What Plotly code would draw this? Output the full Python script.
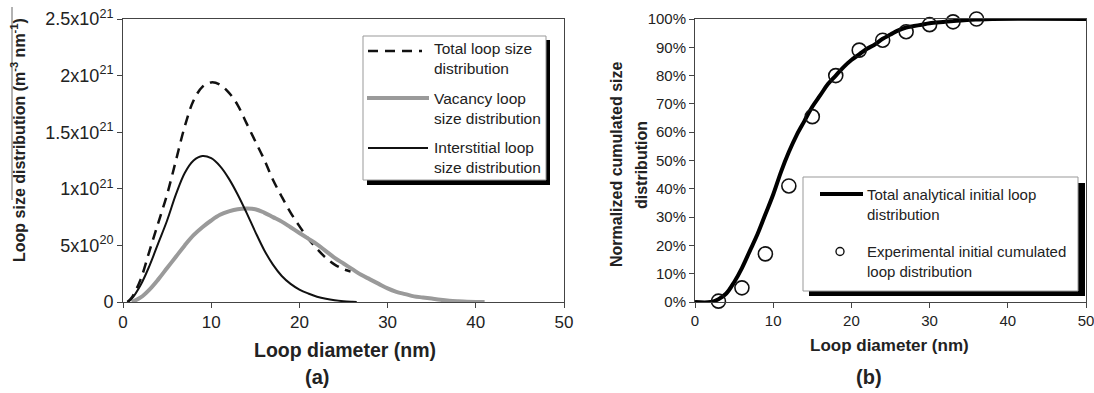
import plotly.graph_objects as go

W, H = 1094, 393
FONT = "Liberation Sans, Arial, sans-serif"

# ---------------- Data (a) ----------------
d_total = [0.5, 1, 2, 3, 4, 5, 6, 7, 8, 9, 10, 11, 12, 13, 14, 15, 16, 17, 18, 19, 20, 21, 22, 23, 24, 25, 25.8]
v_total = [0, 0.04, 0.2, 0.45, 0.7, 0.95, 1.25, 1.55, 1.78, 1.9, 1.94, 1.92, 1.85, 1.74, 1.58, 1.42, 1.26,
           1.08, 0.93, 0.79, 0.67, 0.56, 0.47, 0.39, 0.33, 0.29, 0.27]

d_vac = [1, 2, 3, 4, 5, 6, 7, 8, 9, 10, 11, 12, 13, 14, 15, 16, 17, 18, 19, 20, 21, 22, 23, 24, 25, 26, 27,
         28, 29, 30, 31, 32, 33, 34, 35, 36, 37, 38, 39, 40, 41]
v_vac = [0, 0.04, 0.11, 0.2, 0.3, 0.4, 0.5, 0.59, 0.66, 0.72, 0.77, 0.80, 0.82, 0.825, 0.82, 0.79, 0.75,
         0.71, 0.66, 0.61, 0.56, 0.51, 0.45, 0.39, 0.34, 0.29, 0.24, 0.2, 0.16, 0.12, 0.09, 0.07, 0.05,
         0.04, 0.03, 0.02, 0.012, 0.007, 0.003, 0.001, 0]

d_int = [0.5, 1, 2, 3, 4, 5, 6, 7, 8, 9, 10, 11, 12, 13, 14, 15, 16, 17, 18, 19, 20, 21, 22, 23, 24, 25, 26, 26.5]
v_int = [0, 0.03, 0.15, 0.32, 0.52, 0.72, 0.95, 1.14, 1.25, 1.29, 1.27, 1.20, 1.09, 0.95, 0.79, 0.62, 0.46,
         0.33, 0.23, 0.16, 0.11, 0.075, 0.047, 0.028, 0.015, 0.007, 0.002, 0]

SCALE = 1e21
y_tickvals_a = [0, 0.5, 1.0, 1.5, 2.0, 2.5]
y_ticktext_a = ["0", "5x10<sup>20</sup>", "1x10<sup>21</sup>", "1.5x10<sup>21</sup>",
                "2x10<sup>21</sup>", "2.5x10<sup>21</sup>"]

# ---------------- Data (b) ----------------
d_cum = [0, 2, 3, 4, 5, 6, 7, 8, 9, 10, 11, 12, 13, 14, 15, 16, 17, 18, 19, 20, 21, 22, 23, 24, 25, 26,
         27, 28, 29, 30, 32, 34, 36, 38, 50]
v_cum = [0, 0, 0.01, 0.03, 0.07, 0.12, 0.18, 0.24, 0.31, 0.38, 0.46, 0.53, 0.59, 0.64, 0.69, 0.73, 0.77,
         0.80, 0.83, 0.855, 0.875, 0.895, 0.91, 0.93, 0.945, 0.96, 0.97, 0.975, 0.98, 0.985, 0.99, 0.995,
         0.998, 1.0, 1.0]

d_exp = [3, 6, 9, 12, 15, 18, 21, 24, 27, 30, 33, 36]
v_exp = [0.003, 0.05, 0.17, 0.41, 0.655, 0.80, 0.89, 0.925, 0.955, 0.98, 0.99, 1.0]

x_ticks = [0, 10, 20, 30, 40, 50]
y_ticks_b = [i / 10 for i in range(11)]
y_ticktext_b = [f"{i*10}%" for i in range(11)]


def px(x):
    return x / W


def py(y):
    return 1 - y / H


fig = go.Figure()

fig.add_trace(go.Scatter(x=d_total, y=[v * SCALE for v in v_total], mode="lines",
                         line=dict(color="#111", width=2.5, dash="10px,7px", shape="spline"),
                         xaxis="x", yaxis="y", showlegend=False))
fig.add_trace(go.Scatter(x=d_vac, y=[v * SCALE for v in v_vac], mode="lines",
                         line=dict(color="#9a9a9a", width=4, shape="spline"),
                         xaxis="x", yaxis="y", showlegend=False))
fig.add_trace(go.Scatter(x=d_int, y=[v * SCALE for v in v_int], mode="lines",
                         line=dict(color="#111", width=2, shape="spline"),
                         xaxis="x", yaxis="y", showlegend=False))

fig.add_trace(go.Scatter(x=d_cum, y=v_cum, mode="lines",
                         line=dict(color="#000", width=4, shape="spline"),
                         xaxis="x2", yaxis="y2", showlegend=False))
fig.add_trace(go.Scatter(x=d_exp, y=v_exp, mode="markers", cliponaxis=False,
                         marker=dict(symbol="circle-open", size=14, color="#111",
                                     line=dict(width=1.6, color="#111")),
                         xaxis="x2", yaxis="y2", showlegend=False))

axis_common = dict(showgrid=False, zeroline=False, showline=True, linecolor="#444", linewidth=1,
                   mirror=True, ticks="outside", ticklen=5, tickcolor="#444", tickwidth=1,
                   automargin=False, ticklabeloverflow="allow")

y_dom = [py(302), py(19)]

fig.update_layout(
    width=W, height=H, autosize=False,
    margin=dict(l=0, r=0, t=0, b=0),
    paper_bgcolor="white", plot_bgcolor="white",
    font=dict(family=FONT, color="#222"),
    xaxis=dict(domain=[px(123), px(564)], range=[0, 50], tickvals=x_ticks, anchor="y",
               tickfont=dict(size=17, family=FONT, color="#222"), **axis_common),
    yaxis=dict(domain=y_dom, range=[0, 2.5 * SCALE], tickvals=[v * SCALE for v in y_tickvals_a],
               ticktext=y_ticktext_a, anchor="x",
               tickfont=dict(size=18, family=FONT, color="#222"), **axis_common),
    xaxis2=dict(domain=[px(695), px(1086)], range=[0, 50], tickvals=x_ticks, anchor="y2",
                tickfont=dict(size=15, family=FONT, color="#222"), **axis_common),
    yaxis2=dict(domain=y_dom, range=[0, 1], tickvals=y_ticks_b, ticktext=y_ticktext_b, anchor="x2",
                tickfont=dict(size=15, family=FONT, color="#222"), **axis_common),
)

shapes = []
annotations = []


def ann(text, x, y, size=14, bold=False, angle=0, xanchor="center", yanchor="middle"):
    t = f"<b>{text}</b>" if bold else text
    annotations.append(dict(text=t, x=px(x), y=py(y), xref="paper", yref="paper", showarrow=False,
                            font=dict(size=size, family=FONT, color="#222"), textangle=angle,
                            xanchor=xanchor, yanchor=yanchor))


def rect(x0, y0, x1, y1, fill, line_color=None, lw=0):
    shapes.append(dict(type="rect", xref="paper", yref="paper", x0=px(x0), x1=px(x1), y0=py(y1), y1=py(y0),
                       fillcolor=fill, line=dict(color=line_color or fill, width=lw), layer="above"))


def seg(x0, y0, x1, y1, color, width, dash="solid"):
    shapes.append(dict(type="line", xref="paper", yref="paper", x0=px(x0), x1=px(x1), y0=py(y0), y1=py(y1),
                       line=dict(color=color, width=width, dash=dash), layer="above"))


# Axis titles and panel labels
ann("Loop diameter (nm)", 345, 350, size=19.5, bold=True)
ann("(a)", 317, 377, size=20, bold=True)
ann("Loop diameter (nm)", 889, 345, size=17, bold=True)
ann("(b)", 869, 377, size=20, bold=True)
ann("Loop size distribution (m<sup>-3</sup> nm<sup>-1</sup>)", 18, 140, size=16, bold=True, angle=-90)
seg(12, 7, 12, 200, "#666", 1)
ann("Normalized cumulated size", 617, 165, size=16, bold=True, angle=-90)
ann("distribution", 642, 165, size=16, bold=True, angle=-90)

# Legend (a)
rect(367, 40, 550, 185, "#000")
rect(363, 36, 546, 180, "white", "#999", 1)
seg(368, 51, 422, 51, "#111", 2.5, "10px,7px")
seg(367, 98, 429, 98, "#9a9a9a", 4)
seg(368, 148, 428, 148, "#111", 2)
for txt, yy in [("Total loop size", 49), ("distribution", 69), ("Vacancy loop", 98),
                ("size distribution", 118), ("Interstitial loop", 147), ("size distribution", 167)]:
    ann(txt, 432, yy, size=15.5, xanchor="left")

# Legend (b)
rect(809, 183, 1085, 296, "#000")
rect(803, 177, 1078, 291, "white", "#999", 1)
seg(820, 194, 863, 194, "#000", 4)
shapes.append(dict(type="circle", xref="paper", yref="paper", x0=px(836), x1=px(844), y0=py(255.5),
                   y1=py(247.5), line=dict(color="#111", width=1.4), fillcolor="rgba(0,0,0,0)", layer="above"))
for txt, yy in [("Total analytical initial loop", 194), ("distribution", 214),
                ("Experimental initial cumulated", 251), ("loop distribution", 271)]:
    ann(txt, 865, yy, size=15, xanchor="left")

fig.update_layout(shapes=shapes, annotations=annotations)

fig.write_html("out.html", config={"displayModeBar": False},
               post_script="document.body.style.margin='0px';")
